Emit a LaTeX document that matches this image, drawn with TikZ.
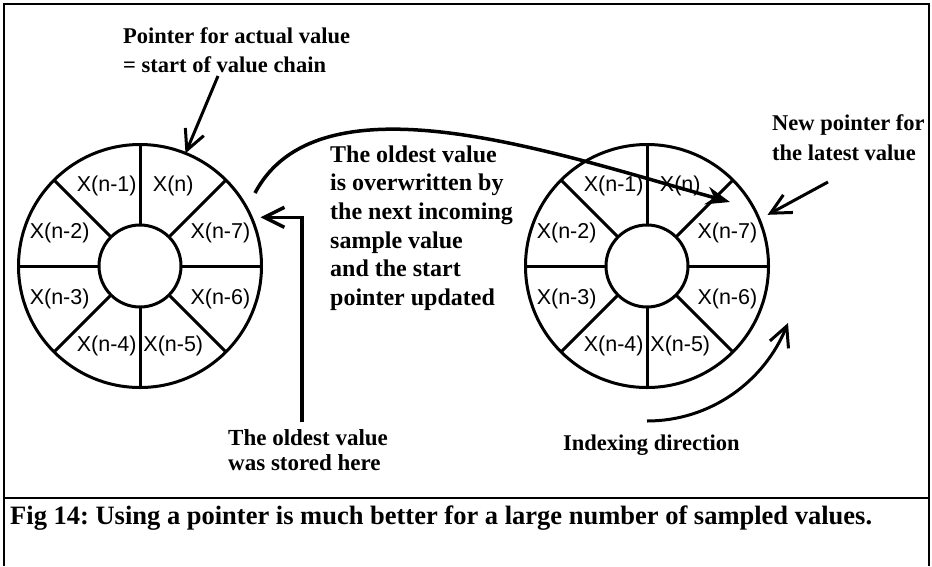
\documentclass[tikz,border=0pt]{standalone}
\usepackage{fontspec}
\setmainfont{Liberation Serif}
\setsansfont{Liberation Sans}
\frenchspacing
\usetikzlibrary{
  arrows.meta,
  calc,
}
\tikzset{
  ring/.style={
    circle, draw, line width=3pt, inner sep=0pt, outer sep=0pt,
    minimum size=243pt
  },
  hub/.style={
    circle, draw, line width=3pt, fill=white, inner sep=0pt, outer sep=0pt,
    minimum size=82pt
  },
  spoke/.style={line width=3pt},
  cell/.style={font=\sffamily\fontsize{21.5}{24}\selectfont, inner sep=0pt},
  note/.style={
    font=\bfseries\fontsize{22.5}{29}\selectfont,
    align=left, anchor=north west, inner sep=0pt
  },
  barbarrow/.style={-{Straight Barb[length=20pt,width=20pt]}, line width=3pt},
  bigarrow/.style={-{Stealth[length=24pt,width=18pt]}, line width=3.5pt},
  framerule/.style={line width=2.5pt},
}

\begin{document}
\begin{tikzpicture}[x=1pt, y=-1pt]
  \useasboundingbox (0,0) rectangle (932,566);

  % ── Frame and caption rule ──
  \draw[framerule] (4,566) -- (4,4) -- (929,4) -- (929,566);
  \draw[framerule] (4,498) -- (929,498);

  % ── Left ring buffer ──
  \node[ring] (ringA) at (140,266) {};
  \node[hub] (hubA) at (140,266) {};
  \foreach \a in {0,45,...,315}
    \draw[spoke] (hubA.\a) -- (ringA.\a);
  \foreach \ang/\cellname [count=\k] in {67.5/X(n), 22.5/X(n-7), -22.5/X(n-6),
      -67.5/X(n-5), -112.5/X(n-4), -157.5/X(n-3), 157.5/X(n-2), 112.5/X(n-1)}
    \node[cell] (A\k) at ($(ringA.center)+(\ang:87pt)$) {\cellname};

  % ── Right ring buffer ──
  \node[ring] (ringB) at (647,266) {};
  \node[hub] (hubB) at (647,266) {};
  \foreach \a in {0,45,...,315}
    \draw[spoke] (hubB.\a) -- (ringB.\a);
  \foreach \ang/\cellname [count=\k] in {67.5/X(n), 22.5/X(n-7), -22.5/X(n-6),
      -67.5/X(n-5), -112.5/X(n-4), -157.5/X(n-3), 157.5/X(n-2), 112.5/X(n-1)}
    \node[cell] (B\k) at ($(ringB.center)+(\ang:87pt)$) {\cellname};

  % ── Texts ──
  \node[note] (ptrTxt) at (123,27.5)
    {Pointer for actual value\\= start of value chain};
  \node[note, font=\bfseries\fontsize{24}{28.6}\selectfont] (midTxt) at (330,145.5)
    {The oldest value\\is overwritten by\\the next incoming\\sample value\\and the start\\pointer updated};
  \node[note, font=\bfseries\fontsize{22.5}{30}\selectfont] (newTxt) at (772,114.5)
    {New pointer for\\the latest value};
  \node[note, font=\bfseries\fontsize{23}{25}\selectfont] (oldTxt) at (228,429)
    {The oldest value\\was stored here};
  \node[note] (idxTxt) at (563,434.5) {Indexing direction};
  \node[font=\bfseries\fontsize{26.5}{30}\selectfont, anchor=base west, inner sep=0pt]
    (capTxt) at (10,524)
    {Fig 14: Using a pointer is much better for a large number of sampled values.};

  % ── Arrow ends ──
  \coordinate (ptrS) at (218,76);
  \coordinate (newS) at (828,182);
  \coordinate (curS) at (255,193);
  \coordinate (curE) at (730,202);
  \coordinate (idxS) at (647,421);
  \coordinate (idxE) at (788,323);
  \coordinate (oldTip) at ($(ringA.center)+(22:130pt)$);
  \coordinate (newTip) at ($(ringB.center)+(23:131pt)$);

  % ── Arrows ──
  \draw[barbarrow] (ptrS) -- (ringA.68);
  \draw[barbarrow, line width=3.5pt] ([xshift=-6pt,yshift=7pt]oldTxt.north) |- (oldTip);
  \draw[bigarrow] (curS) .. controls (320,70) and (560,155) .. (curE);
  \draw[barbarrow] (newS) -- (newTip);
  \draw[barbarrow] (idxS) .. controls (710,421) and (764,382) .. (idxE);

\end{tikzpicture}
\end{document}
